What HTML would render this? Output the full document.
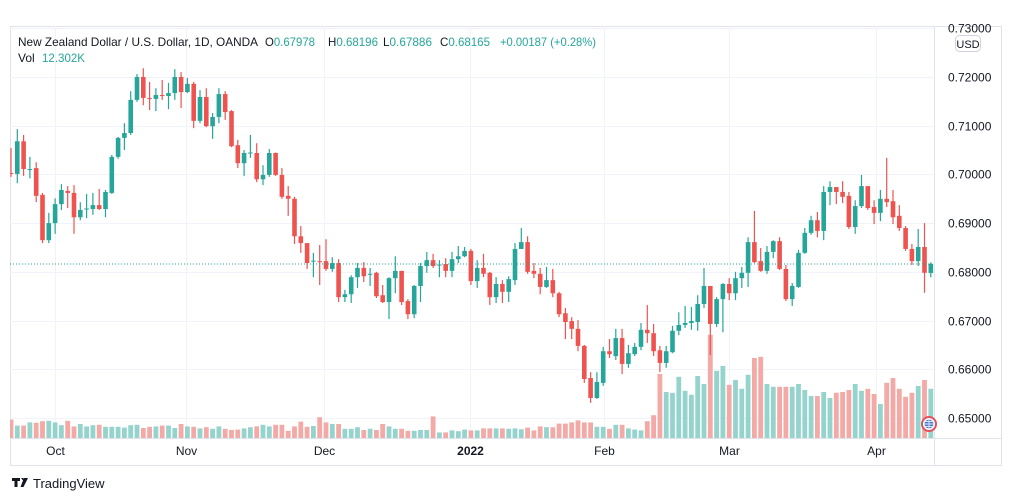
<!DOCTYPE html>
<html><head><meta charset="utf-8"><style>
html,body{margin:0;padding:0;background:#fff;width:1012px;height:501px;overflow:hidden}
svg{display:block;font-family:"Liberation Sans",sans-serif}
</style></head><body>
<svg id="chart" width="1012" height="501" viewBox="0 0 1012 501">
<rect x="10.5" y="26.5" width="991" height="439" fill="#fff" stroke="#e0e3eb"/>
<g id="grid"></g>
<g id="vols"></g>
<g id="candles"></g>
<line x1="10" x2="934" y1="264" y2="264" stroke="#26a69a" stroke-dasharray="1,2"/>
<line x1="934.5" x2="934.5" y1="26" y2="465" stroke="#e0e3eb"/>
<line x1="10" x2="1001" y1="438.5" y2="438.5" stroke="#e0e3eb"/>
<g id="yaxis"></g>
<g id="xaxis"></g>
<g><rect x="955.5" y="35.5" width="25" height="16" rx="4" fill="#fff" stroke="#d1d4dc"/><text x="968" y="48" font-size="11" text-anchor="middle" fill="#131722">USD</text></g>
<g><circle cx="929" cy="424" r="7" fill="#fff" stroke="#e0525a" stroke-width="2"/><circle cx="929" cy="424" r="4.5" fill="#4a7fd4"/><path d="M924.5 424h9M929 419.5v9M925.5 421.5h7M925.5 426.5h7" stroke="#fff" stroke-width="0.7"/></g>
<g font-size="12">
<text x="18" y="46" fill="#131722" textLength="240" lengthAdjust="spacingAndGlyphs">New Zealand Dollar / U.S. Dollar, 1D, OANDA</text>
<text x="265" y="46" fill="#131722" textLength="50" lengthAdjust="spacingAndGlyphs">O<tspan fill="#26a69a">0.67978</tspan></text>
<text x="328" y="46" fill="#131722" textLength="50" lengthAdjust="spacingAndGlyphs">H<tspan fill="#26a69a">0.68196</tspan></text>
<text x="383" y="46" fill="#131722" textLength="49" lengthAdjust="spacingAndGlyphs">L<tspan fill="#26a69a">0.67886</tspan></text>
<text x="440" y="46" fill="#131722" textLength="50" lengthAdjust="spacingAndGlyphs">C<tspan fill="#26a69a">0.68165</tspan></text>
<text x="500" y="46" fill="#26a69a" textLength="96" lengthAdjust="spacingAndGlyphs">+0.00187 (+0.28%)</text>
<text x="18" y="62" fill="#131722">Vol</text>
<text x="42" y="62" fill="#26a69a" textLength="43" lengthAdjust="spacingAndGlyphs">12.302K</text>
</g>
<g>
<path d="M12 478h8v3h-2.5v6h-3v-6H12z M21 478h2.5v3z M24 478h4l-4.5 9h-3z" fill="#131722"/>
<text x="33" y="488" font-size="13" fill="#131722">TradingView</text>
</g>
</svg>
<script>
const opens=[.7003,.7001,.7068,.7010,.7013,.6958,.6865,.6900,.6939,.6966,.6962,.6912,.6928,.6929,.6937,.6929,.6962,.7036,.7075,.7085,.7153,.7200,.7157,.7155,.7163,.7161,.7167,.7200,.7169,.7186,.7110,.7159,.7099,.7118,.7165,.7130,.7060,.7023,.7043,.7044,.6990,.6999,.7044,.6999,.6956,.6950,.6873,.6859,.6821,.6822,.6822,.6806,.6818,.6748,.6754,.6789,.6808,.6794,.6798,.6752,.6738,.6787,.6802,.6740,.6713,.6771,.6812,.6824,.6813,.6816,.6802,.6826,.6832,.6843,.6781,.6808,.6798,.6748,.6775,.6759,.6783,.6847,.6861,.6802,.6796,.6769,.6783,.6756,.6715,.6699,.6683,.6648,.6582,.6541,.6572,.6637,.6627,.6664,.6611,.6631,.6646,.6681,.6674,.6639,.6613,.6635,.6679,.6691,.6695,.6697,.6734,.6771,.6693,.6744,.6775,.6756,.6787,.6798,.6861,.6822,.6802,.6841,.6863,.6806,.6744,.6769,.6839,.6880,.6906,.6884,.6964,.6974,.6964,.6956,.6892,.6935,.6976,.6933,.6921,.6950,.6945,.6915,.6890,.6847,.6822,.6851,.67978];
const highs=[.7054,.7093,.7081,.7036,.7025,.6962,.6921,.6951,.6980,.6976,.6978,.6943,.6960,.6962,.6970,.6968,.7040,.7077,.7105,.7171,.7206,.7218,.7190,.7177,.7194,.7188,.7216,.7210,.7198,.7190,.7173,.7177,.7126,.7177,.7171,.7132,.7071,.7050,.7081,.7064,.7019,.7052,.7045,.7013,.6976,.6954,.6894,.6859,.6839,.6855,.6867,.6830,.6826,.6763,.6793,.6818,.6820,.6808,.6800,.6773,.6789,.6832,.6802,.6744,.6773,.6818,.6841,.6837,.6824,.6828,.6841,.6853,.6851,.6847,.6824,.6837,.6800,.6789,.6783,.6791,.6859,.6890,.6873,.6818,.6808,.6810,.6806,.6759,.6726,.6707,.6701,.6650,.6594,.6594,.6646,.6662,.6683,.6683,.6650,.6654,.6695,.6732,.6693,.6648,.6648,.6689,.6717,.6730,.6728,.6752,.6808,.6771,.6748,.6777,.6787,.6800,.6810,.6871,.6925,.6849,.6853,.6865,.6871,.6814,.6777,.6845,.6890,.6915,.6923,.6976,.6986,.6974,.6986,.6964,.6947,.6999,.6976,.6947,.6968,.7034,.6968,.6937,.6894,.6857,.6888,.6900,.68196];
const lows=[.6995,.6982,.6997,.6992,.6943,.6859,.6859,.6878,.6927,.6931,.6878,.6906,.6910,.6917,.6927,.6912,.6960,.7032,.7050,.7081,.7149,.7142,.7132,.7130,.7153,.7134,.7153,.7136,.7167,.7095,.7105,.7097,.7073,.7105,.7112,.7056,.7013,.6997,.7034,.6984,.6978,.6995,.6997,.6950,.6915,.6857,.6839,.6806,.6789,.6773,.6802,.6800,.6738,.6738,.6736,.6767,.6779,.6771,.6746,.6736,.6703,.6756,.6732,.6703,.6705,.6738,.6798,.6808,.6789,.6789,.6789,.6818,.6830,.6773,.6767,.6789,.6732,.6736,.6736,.6738,.6773,.6847,.6796,.6787,.6754,.6767,.6748,.6707,.6662,.6662,.6637,.6572,.6531,.6539,.6566,.6623,.6619,.6590,.6603,.6627,.6639,.6654,.6627,.6594,.6603,.6633,.6670,.6685,.6681,.6679,.6726,.6629,.6687,.6676,.6742,.6742,.6767,.6769,.6818,.6800,.6796,.6828,.6804,.6740,.6730,.6767,.6837,.6876,.6871,.6865,.6937,.6939,.6941,.6888,.6878,.6931,.6927,.6898,.6904,.6933,.6898,.6884,.6843,.6814,.6812,.6757,.67886];
const closes=[.7001,.7068,.7011,.7011,.6956,.6865,.6900,.6939,.6968,.6962,.6912,.6927,.6930,.6937,.6929,.6964,.7036,.7075,.7085,.7153,.7200,.7157,.7155,.7163,.7161,.7167,.7200,.7169,.7186,.7110,.7159,.7099,.7118,.7165,.7128,.7058,.7023,.7044,.7045,.6990,.6999,.7044,.6999,.6954,.6950,.6873,.6859,.6818,.6823,.6820,.6806,.6818,.6748,.6754,.6789,.6808,.6791,.6796,.6750,.6738,.6787,.6802,.6738,.6713,.6771,.6812,.6824,.6812,.6815,.6802,.6826,.6832,.6843,.6781,.6808,.6796,.6748,.6775,.6759,.6785,.6847,.6861,.6800,.6796,.6769,.6783,.6756,.6713,.6697,.6683,.6648,.6580,.6541,.6574,.6637,.6631,.6664,.6611,.6633,.6646,.6681,.6674,.6637,.6613,.6637,.6679,.6691,.6695,.6699,.6734,.6771,.6693,.6744,.6775,.6756,.6787,.6798,.6861,.6820,.6802,.6841,.6863,.6806,.6744,.6771,.6839,.6880,.6906,.6884,.6964,.6974,.6964,.6954,.6892,.6935,.6976,.6931,.6921,.6950,.6943,.6912,.6890,.6847,.6822,.6851,.6798,.68165];
const volumes=[4.6,3.1,3.1,3.9,3.8,4.2,4.3,3.9,3.2,4.3,2.9,3.5,2.9,3.2,3.3,2.8,2.8,2.8,2.6,3.2,3.3,2.5,2.8,2.9,3.1,3.1,2.5,3.5,2.9,2.8,2.4,2.7,2.3,2.9,2.3,2.0,2.1,2.4,2.7,2.9,3.3,2.9,3.3,3.3,1.8,2.9,4.1,2.8,3.0,5.2,3.9,3.5,3.5,2.3,2.3,2.7,2.0,2.3,2.0,3.5,2.9,2.3,2.3,1.8,1.8,2.0,2.0,5.4,1.4,1.4,1.9,1.7,2.1,1.9,1.9,2.4,2.4,2.4,2.4,2.3,2.4,2.2,2.6,1.9,2.9,2.7,2.7,3.6,3.6,3.9,4.4,3.9,3.9,2.8,2.8,2.3,3.3,3.3,2.4,2.1,1.9,4.2,5.7,16,11.5,11.3,15.3,11.8,10.8,15.5,13.5,25.8,16.8,18,13.3,14.5,12.3,15.8,20,20.3,13.5,12.8,12.8,12.8,12.8,13.5,12,10.5,10.5,11.5,10,11.3,11.5,12,13.5,11.8,12.3,11,8.5,13.8,15,12.3,10.3,11.3,13,14.5,12.302];
const priceTicks=[0.65,0.66,0.67,0.68,0.69,0.70,0.71,0.72,0.73];
const timeLabels=["Oct","Nov","Dec","2022","Feb","Mar","Apr"];
const timeTickIndex=[7,27.8,49.7,72.9,94.1,114,137.3];

const NS="http://www.w3.org/2000/svg";
const xS=i=>11+i*6.3;
const yS=p=>77+(0.72-p)*4871;
const vS=v=>438-v*4;
function mk(tag,attrs,parent){const e=document.createElementNS(NS,tag);for(const k in attrs)e.setAttribute(k,attrs[k]);parent.appendChild(e);return e;}
const grid=document.getElementById('grid'),yax=document.getElementById('yaxis'),xax=document.getElementById('xaxis');
priceTicks.forEach(p=>{
  const y=Math.round(yS(p))+0.5;
  const l=mk('line',{x1:10,x2:934,y1:y,y2:y,stroke:'#f0f3fa'},grid);
  
  
  const t=mk('text',{x:948,y:y+4,'font-size':12,fill:'#131722'},yax);
  t.textContent=p.toFixed(5);
  
  
});
timeLabels.forEach((s,k)=>{
  const x=Math.round(xS(timeTickIndex[k]))+0.5;
  const l=mk('line',{x1:x,x2:x,y1:26,y2:438,stroke:'#f0f3fa'},grid);
  
  
  const t=mk('text',{x:x,y:455,'font-size':12,fill:'#131722','text-anchor':'middle','font-weight':s==='2022'?'bold':'normal'},xax);
  t.textContent=s;
  
  
});
const vg=document.getElementById('vols'),cg=document.getElementById('candles');
const clip=mk('clipPath',{id:'plotclip'},document.getElementById('chart'));
mk('rect',{x:10,y:26,width:924,height:412},clip);
vg.setAttribute('clip-path','url(#plotclip)');
cg.setAttribute('clip-path','url(#plotclip)');
for(let i=0;i<closes.length;i++){
  const up=closes[i]>=opens[i];
  const x=xS(i);
  const vt=vS(volumes[i]);
  const vb=mk('rect',{x:x-2.4,y:vt,width:4.8,height:438-vt,fill:up?'#95d3cd':'#f3a9a6'},vg);
  
  
  const col=up?'#26a69a':'#ef5350';
  const w=mk('line',{x1:x,x2:x,y1:yS(highs[i]),y2:yS(lows[i]),stroke:col,'stroke-width':1.2},cg);
  
  
  const top=yS(Math.max(opens[i],closes[i])),bot=yS(Math.min(opens[i],closes[i]));
  const b=mk('rect',{x:x-2.3,y:top,width:4.6,height:Math.max(1,bot-top),fill:col},cg);
  
  
}
</script>
</body></html>
